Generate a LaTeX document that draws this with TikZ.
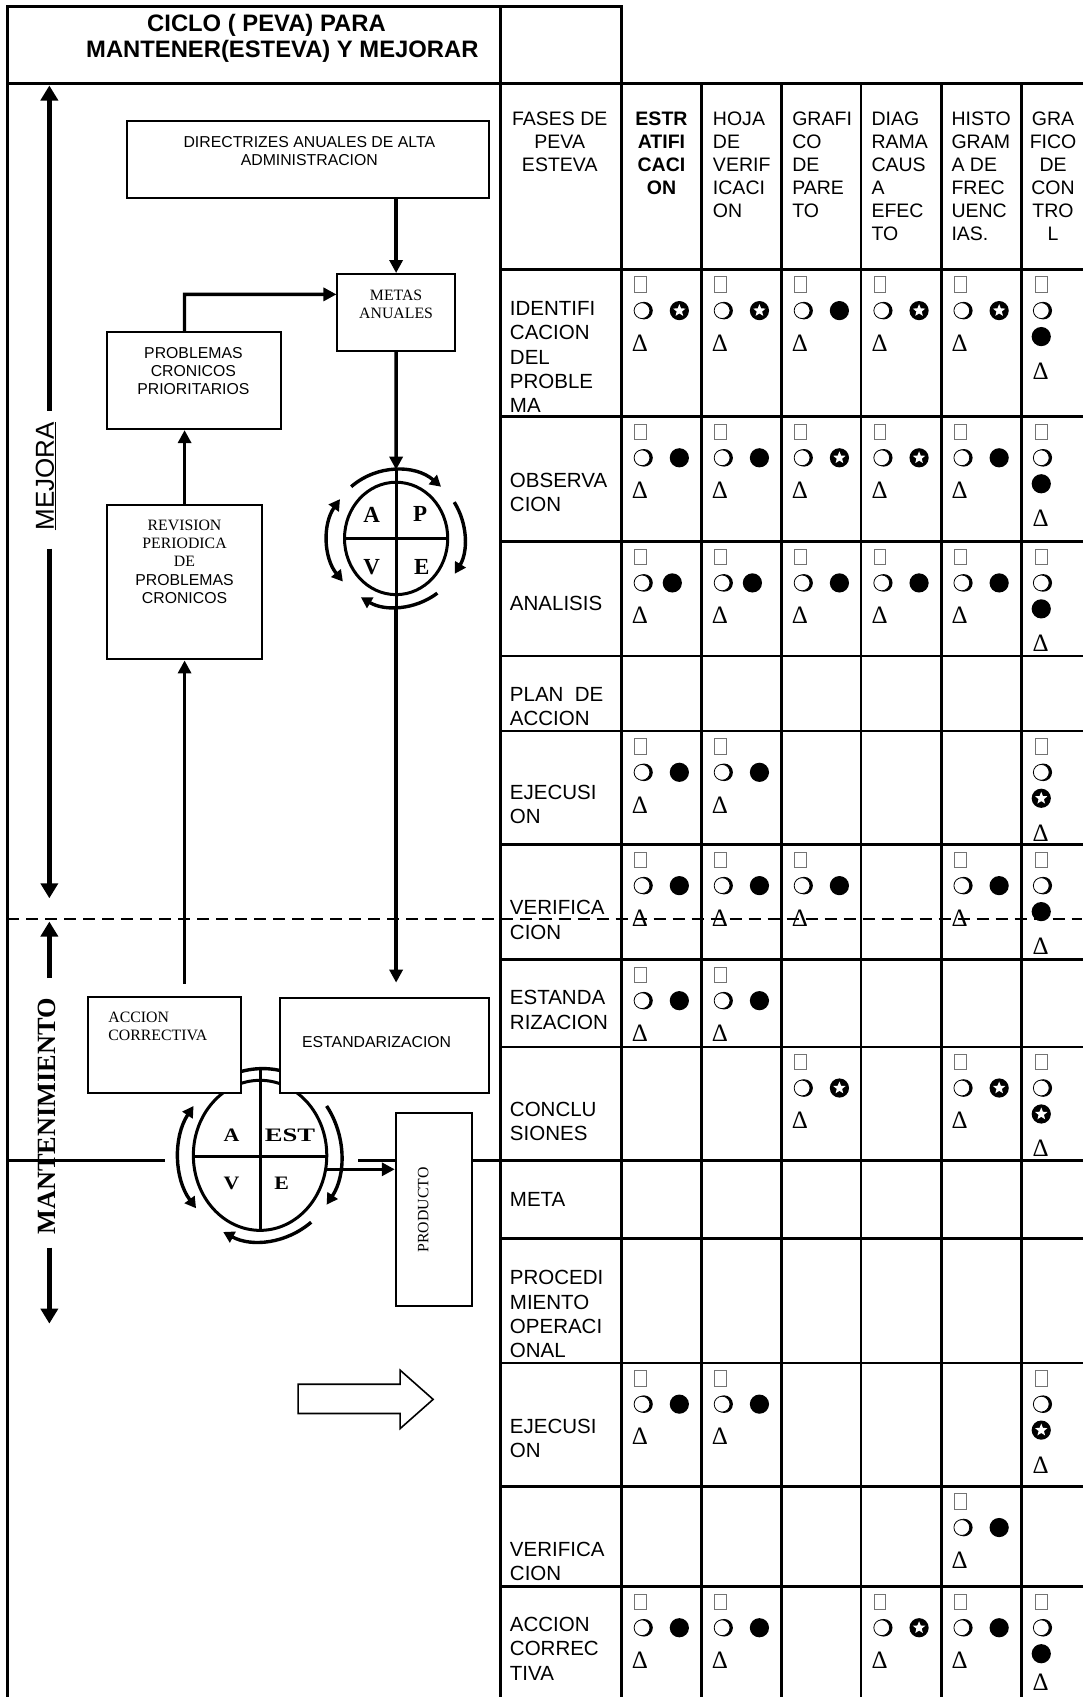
\documentclass[tikz,border=0pt]{standalone}
\usepackage{fontspec}
\setmainfont{Liberation Sans}
\newfontfamily\tnr{Liberation Serif}
\usepackage{graphicx}
\usetikzlibrary{arrows.meta,shapes.geometric,fit}

\tikzset{
  grid/.style={line width=2.6pt, line cap=rect},
  box/.style={draw, line width=2pt, fill=white, inner sep=0pt},
  conn/.style={line width=3.3pt, -{Triangle[length=13pt,width=13pt]}},
  sidearr/.style={line width=5.5pt, -{Triangle[length=15pt,width=17pt]}},
  ring/.style={line width=3pt},
  arcarr/.style={line width=3.4pt, -{Triangle[length=11pt,width=12pt]}},
  arcboth/.style={line width=3.4pt, {Triangle[length=11pt,width=12pt]}-{Triangle[length=11pt,width=12pt]}},
  hdr/.style={font=\fontsize{19.5}{23}\selectfont, inner sep=0pt},
  lbl/.style={font=\fontsize{20.5}{24.3}\selectfont, inner sep=0pt, align=left, anchor=north west},
  sans/.style={font=\fontsize{15.8}{18.4}\selectfont, inner sep=0pt, align=center},
  serif/.style={font=\tnr\fontsize{15.8}{18.4}\selectfont, inner sep=0pt, align=center},
  sqm/.style={draw=black!55, line width=0.8pt, minimum width=11.5pt, minimum height=15.5pt, inner sep=0pt},
  starm/.style={star, star points=5, star point ratio=2.3, fill=white, minimum size=13pt, inner sep=0pt},
  dlt/.style={font=\tnr\fontsize{25}{25}\selectfont, inner sep=0pt},
  letter/.style={font=\tnr\bfseries\fontsize{23}{23}\selectfont, inner sep=0pt},
  letterb/.style={font=\tnr\bfseries\fontsize{19}{19}\selectfont, inner sep=0pt},
}

% table marks: empty square, shadowed circle, black disc, circled star, delta
\newcommand\mkSq[2]{\node[sqm] at ({#1},{#2}) {};}
\newcommand\mkRing[2]{%
  \fill ({#1},{#2}) ++(2pt,0pt) circle (8.8pt);
  \filldraw[fill=white, line width=0.8pt] ({#1},{#2}) circle (7.9pt);}
\newcommand\mkBall[2]{\fill ({#1},{#2}) circle (9.6pt);}
\newcommand\mkStar[2]{\fill ({#1},{#2}) circle (9.6pt); \node[starm] at ({#1},{#2}) {};}
\newcommand\mkDelta[2]{\node[dlt] at ({#1},{#2}) {Δ};}
% a cell with the marks laid out on three lines
\newcommand\mkCell[4]{%
  \mkSq{#1+17.5}{#2+14}
  \mkRing{#1+19}{#2+38}
  \if b#3 \mkBall{#1+#4}{#2+38}\else \mkStar{#1+#4}{#2+38}\fi
  \mkDelta{#1+17}{#2+68}}
% a narrow cell with the marks stacked on four lines
\newcommand\mkStack[4][94]{%
  \mkSq{#2+18.5}{#3+14}
  \mkRing{#2+18.5}{#3+38}
  \if b#4 \mkBall{#2+18.5}{#3+62}\else \mkStar{#2+18.5}{#3+62}\fi
  \mkDelta{#2+18}{#3+#1}}

\begin{document}
\begin{tikzpicture}[x=1.082pt, y=-1.082pt]
\useasboundingbox (0,0) rectangle (1000,1568);
\fill[white] (0,0) rectangle (1000,1568);

% ---------- frame and table rules ----------
\draw[grid] (6.8,1568) -- (6.8,6.2) -- (574.2,6.2);
\draw[grid] (462.6,6.2) -- (462.6,1568);
\draw[grid] (574.2,6.2) -- (574.2,1568);
\foreach \cx in {648.2,722.1,795.7,869.7,943.6} \draw[grid] (\cx,77) -- (\cx,1568);
\draw[grid] (6.8,77) -- (1000,77);
\foreach \ry in {249,385,500.6,606.3,675.6,780.3,886.6,967.3,1144.5,1259.4,1373.4,1466}
  \draw[grid] (462.6,\ry) -- (1000,\ry);
\draw[grid] (6.8,1072) -- (1000,1072);

% ---------- title ----------
\node[font=\bfseries\fontsize{23.8}{28}\selectfont, anchor=base, inner sep=0pt] (title1) at (246.2,29.3) {CICLO ( PEVA) PARA};
\node[font=\bfseries\fontsize{23.8}{28}\selectfont, anchor=base, inner sep=0pt] (title2) at (260.9,53) {MANTENER(ESTEVA) Y MEJORAR};

% ---------- upper cycle A P V E ----------
\node[ellipse, minimum width=137pt, minimum height=137pt, inner sep=0pt] (pdca1) at (366,497.5) {};
\begin{scope}[shift={(366,497.5)}]
  \draw[ring] (0,0) ellipse [x radius=51.6pt, y radius=56.2pt];
  \draw[ring] (-51.6pt,0pt) -- (51.6pt,0pt);
  \draw[ring] (0pt,68pt) -- (0pt,-68pt);
  \draw[arcarr] (131:68.5pt) arc[start angle=131, end angle=49, radius=68.5pt];
  \draw[arcarr] (32:68.5pt) arc[start angle=32, end angle=-31, radius=68.5pt];
  \draw[arcarr] (-53:68.5pt) arc[start angle=-53, end angle=-121, radius=68.5pt];
  \draw[arcboth] (145:68.5pt) arc[start angle=145, end angle=219, radius=68.5pt];
\end{scope}
\node[letter] (la) at (343.5,476) {A};
\node[letter] (lp) at (388.2,475) {P};
\node[letter] (lv) at (343.5,523.7) {V};
\node[letter] (le) at (389.7,523.7) {E};

% ---------- lower cycle A EST V E ----------
\fill[white] (152.5,982) rectangle (331,1158);
\node[ellipse, minimum width=133.4pt, minimum height=150pt, inner sep=0pt] (pdca2) at (240.3,1067.5) {};
\begin{scope}[shift={(240.3,1067.5)}]
  \draw[ring] (0,0) ellipse [x radius=66.7pt, y radius=75pt];
  \draw[ring] (-66.7pt,-1.5pt) -- (66.7pt,-1.5pt);
  \draw[ring] (0pt,86pt) -- (0pt,-75pt);
  \draw[arcarr] (125:81.2pt and 86pt) arc[start angle=125, end angle=47, x radius=81.2pt, y radius=86pt];
  \draw[arcarr] (35:81.2pt and 86pt) arc[start angle=35, end angle=-35, x radius=81.2pt, y radius=86pt];
  \draw[arcarr] (-51:81.2pt and 86pt) arc[start angle=-51, end angle=-117, x radius=81.2pt, y radius=86pt];
  \draw[arcboth] (145:81.2pt and 86pt) arc[start angle=145, end angle=218, x radius=81.2pt, y radius=86pt];
\end{scope}
\node[letterb] (la2) at (214,1049) {\scalebox{1.15}[1]{A}};
\node[letterb] (lest) at (268,1049) {\scalebox{1.4}[1]{EST}};
\node[letterb] (lv2) at (214,1093.6) {\scalebox{1.15}[1]{V}};
\node[letterb] (le2) at (260.3,1093.6) {\scalebox{1.15}[1]{E}};

% ---------- boxes ----------
\node[box, fit={(117,111.5) (452,182.7)}] (dir) {};
\node[box, fit={(311.8,253.2) (420.2,324.4)}] (metas) {};
\node[box, fit={(99.2,307) (259.4,396.5)}] (prob) {};
\node[box, fit={(99.2,466.7) (241.9,609.3)}] (rev) {};
\node[box, fit={(81,921) (223,1010)}] (acc) {};
\node[box, fit={(258.8,921.8) (452,1010)}] (est) {};
\node[box, fit={(365.7,1028) (436.5,1207)}] (prod) {};

\node[sans] (dirtxt) at (285.8,139.4) {DIRECTRIZES ANUALES DE ALTA\\ADMINISTRACION};
\node[serif] (metastxt) at (366,281.4) {METAS\\ANUALES};
\node[sans] (probtxt) at (178.7,342.9) {PROBLEMAS\\CRONICOS\\PRIORITARIOS};
\node[sans] (revtxt) at (170.5,519.1) {{\tnr REVISION}\\{\tnr PERIODICA}\\{\tnr DE}\\PROBLEMAS\\CRONICOS};
\node[serif, align=left, anchor=west] (acctxt) at (100,948.5) {ACCION\\CORRECTIVA};
\node[sans] (esttxt) at (348,962.7) {ESTANDARIZACION};
\node[serif, rotate=90] (prodtxt) at (391,1118) {PRODUCTO};

% ---------- connectors ----------
\draw[conn] (metas.north |- dir.south) -- (metas.north);
\coordinate (elbow) at (170.5,272);
\draw[conn] (rev.north |- prob.north) -- (elbow) -- (elbow -| metas.west);
\draw[conn] (rev.north) -- (rev.north |- prob.south);
\draw[conn, shorten <=12pt] (rev.south |- acc.north) -- (rev.south);
\draw[conn] (metas.south) -- (pdca1.north);
\draw[conn, shorten >=14pt] (pdca1.south) -- (pdca1.south |- est.north);
\draw[conn] (pdca2.-12) -- (pdca2.-12 -| prod.west);

% ---------- side arrows ----------
\coordinate (mejtop) at (45.6,79);
\coordinate (mejbot) at (45.6,830);
\coordinate (manttop) at (45.6,851.5);
\coordinate (mantbot) at (45.6,1223);
\node[rotate=90, font=\fontsize{26}{30}\selectfont, inner sep=0pt] (mej) at (42.5,440) {\underline{MEJORA}};
\draw[sidearr, shorten <=11pt] (mej.east -| mejtop) -- (mejtop);
\draw[sidearr, shorten <=18pt] (mej.west -| mejbot) -- (mejbot);
\node[rotate=90, font=\tnr\bfseries\fontsize{26.3}{30}\selectfont, inner sep=0pt] (mant) at (43,1031.5) {MANTENIMIENTO};
\draw[sidearr, shorten <=20pt] (mant.east -| manttop) -- (manttop);
\draw[sidearr, shorten <=13pt] (mant.west -| mantbot) -- (mantbot);

% ---------- hollow block arrow ----------
\draw[line width=1.6pt, fill=white, line join=miter] (275.4,1279) -- (369.7,1279) -- (369.7,1266)
  -- (400.2,1293) -- (369.7,1320) -- (369.7,1306) -- (275.4,1306) -- cycle;

% ---------- table headings ----------
\node[hdr, align=center, anchor=north] (h0) at (517.2,103) {FASES DE\\PEVA\\ESTEVA};
\node[hdr, font=\bfseries\fontsize{19.5}{23}\selectfont, align=center, anchor=north] (h1) at (611.2,103) {ESTR\\ATIFI\\CACI\\ON};
\node[hdr, align=left, anchor=north west] (h2) at (658.6,103) {HOJA\\DE\\VERIF\\ICACI\\ON};
\node[hdr, align=left, anchor=north west] (h3) at (731.9,103) {GRAFI\\CO\\DE\\PARE\\TO};
\node[hdr, align=left, anchor=north west] (h4) at (805.1,103) {DIAG\\RAMA\\CAUS\\A\\EFEC\\TO};
\node[hdr, align=left, anchor=north west] (h5) at (879,103) {HISTO\\GRAM\\A DE\\FREC\\UENC\\IAS.};
\node[hdr, align=center, anchor=north] (h6) at (973,103) {GRA\\FICO\\DE\\CON\\TRO\\L};

% ---------- phase labels ----------
\node[lbl] (f1) at (471,278.2) {IDENTIFI\\CACION\\DEL\\PROBLE\\MA};
\node[lbl] (f2) at (471,437.2) {OBSERVA\\CION};
\node[lbl] (f3) at (471,550.8) {ANALISIS};
\node[lbl] (f4) at (471,634.6) {PLAN\ \ DE\\ACCION};
\node[lbl] (f5) at (471,725.2) {EJECUSI\\ON};
\node[lbl] (f6) at (471,831.8) {VERIFICA\\CION};
\node[lbl] (f7) at (471,914.9) {ESTANDA\\RIZACION};
\node[lbl] (f8) at (471,1018.2) {CONCLU\\SIONES};
\node[lbl] (f9) at (471,1101.6) {META};
\node[lbl] (f10) at (471,1173.7) {PROCEDI\\MIENTO\\OPERACI\\ONAL};
\node[lbl] (f11) at (471,1310.8) {EJECUSI\\ON};
\node[lbl] (f12) at (471,1424.8) {VERIFICA\\CION};
\node[lbl] (f13) at (471,1494.2) {ACCION\\CORREC\\TIVA};

% ---------- table marks ----------
% identificacion
\mkCell{574.2}{249}{s}{53.5} \mkCell{648.2}{249}{s}{53.5} \mkCell{722.1}{249}{b}{53.5}
\mkCell{795.7}{249}{s}{53.5} \mkCell{869.7}{249}{s}{53.5} \mkStack{943.6}{249}{b}
% observacion
\mkCell{574.2}{385}{b}{53.5} \mkCell{648.2}{385}{b}{53.5} \mkCell{722.1}{385}{s}{53.5}
\mkCell{795.7}{385}{s}{53.5} \mkCell{869.7}{385}{b}{53.5} \mkStack{943.6}{385}{b}
% analisis
\mkCell{574.2}{500.6}{b}{47} \mkCell{648.2}{500.6}{b}{47} \mkCell{722.1}{500.6}{b}{53.5}
\mkCell{795.7}{500.6}{b}{53.5} \mkCell{869.7}{500.6}{b}{53.5} \mkStack{943.6}{500.6}{b}
% ejecusion
\mkCell{574.2}{675.6}{b}{53.5} \mkCell{648.2}{675.6}{b}{53.5} \mkStack{943.6}{675.6}{s}
% verificacion
\mkCell{574.2}{780.3}{b}{53.5} \mkCell{648.2}{780.3}{b}{53.5} \mkCell{722.1}{780.3}{b}{53.5}
\mkCell{869.7}{780.3}{b}{53.5} \mkStack{943.6}{780.3}{b}
% estandarizacion
\mkCell{574.2}{886.6}{b}{53.5} \mkCell{648.2}{886.6}{b}{53.5}
% conclusiones
\mkCell{722.1}{967.3}{s}{53.5} \mkCell{869.7}{967.3}{s}{53.5} \mkStack{943.6}{967.3}{s}
% ejecusion (mantenimiento)
\mkCell{574.2}{1259.4}{b}{53.5} \mkCell{648.2}{1259.4}{b}{53.5} \mkStack{943.6}{1259.4}{s}
% verificacion (mantenimiento)
\mkCell{869.7}{1373.4}{b}{53.5}
% accion correctiva
\mkCell{574.2}{1466}{b}{53.5} \mkCell{648.2}{1466}{b}{53.5} \mkCell{795.7}{1466}{s}{53.5}
\mkCell{869.7}{1466}{b}{53.5} \mkStack[88]{943.6}{1466}{b}

% ---------- boundary between improvement and maintenance ----------
\draw[line width=2pt, dash pattern=on 12pt off 7pt] (6.8,848.7) -- (1000,848.7);
\end{tikzpicture}
\end{document}
